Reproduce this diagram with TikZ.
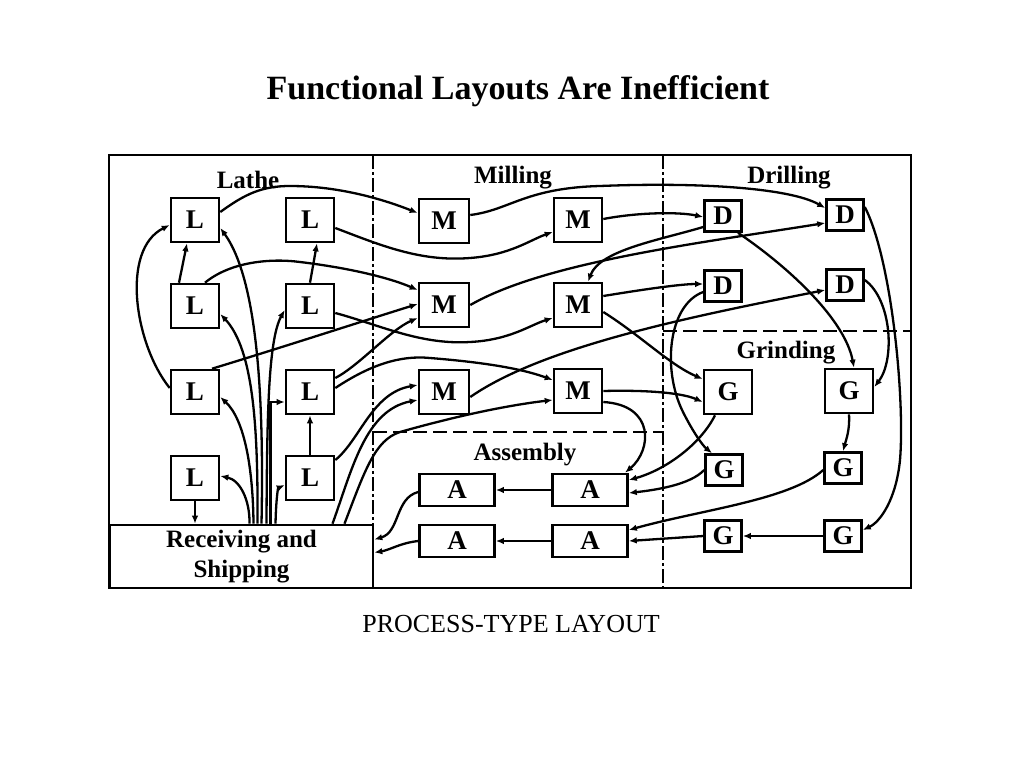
\documentclass[tikz,border=0pt]{standalone}
\usepackage{fontspec}
\setmainfont{Liberation Serif}
\usetikzlibrary{arrows.meta,calc}
\tikzset{
  mach/.style={draw, line width=2.6pt, inner sep=0pt, font=\bfseries\fontsize{27}{27}\selectfont},
  lbox/.style={mach, minimum width=48pt, minimum height=44pt},
  abox/.style={mach, minimum width=75pt, minimum height=32pt},
  dbox/.style={mach, minimum width=37pt, minimum height=31pt},
  flow/.style={line width=2.3pt, -{Latex[length=8pt,width=6.5pt]}},
  area/.style={font=\bfseries\fontsize{25}{25}\selectfont},
  dashdot/.style={line width=2.4pt, dash pattern=on 14pt off 3pt on 3pt off 3pt},
  dashline/.style={line width=2.4pt, dash pattern=on 14pt off 6pt},
}
\begin{document}
\begin{tikzpicture}[x=1pt,y=-1pt]
\useasboundingbox[fill=white] (0,0) rectangle (1024,768);
\node (title) at (518,91) {\bfseries\fontsize{34}{34}\selectfont Functional Layouts Are Inefficient};
\node (caption) at (511,624) {\fontsize{26}{26}\selectfont PROCESS-TYPE LAYOUT};
% frame and zones
\draw[line width=2.6pt] (109,155) rectangle (911,588);
\draw[dashdot] (373,155) -- (373,588);
\draw[dashdot] (663,155) -- (663,588);
\draw[dashline] (373,432) -- (663,432);
\draw[dashline] (663,331) -- (911,331);
% labels
\node[area] (lathe) at (248,180) {Lathe};
\node[area] (milling) at (513,178) {Milling};
\node[area] (drilling) at (789,178) {Drilling};
\node[area] (grinding) at (786,353) {Grinding};
\node[area] (assembly) at (525,455) {Assembly};
% receiving
\node[draw, line width=2.6pt, minimum width=263pt, minimum height=63pt, inner sep=0pt, align=center, font=\bfseries\fontsize{25}{30}\selectfont] (R) at (241.5,556.5) {Receiving and\\Shipping};
% lathes
\node[lbox] (L1) at (195,220) {L};
\node[lbox] (L2) at (310,220) {L};
\node[lbox] (L3) at (195,306) {L};
\node[lbox] (L4) at (310,306) {L};
\node[lbox] (L5) at (195,392) {L};
\node[lbox] (L6) at (310,392) {L};
\node[lbox] (L7) at (195,478) {L};
\node[lbox] (L8) at (310,478) {L};
% milling
\node[lbox, minimum width=50pt] (M1) at (444,221) {M};
\node[lbox] (M2) at (578,220) {M};
\node[lbox, minimum width=50pt] (M3) at (444,305) {M};
\node[lbox] (M4) at (578,305) {M};
\node[lbox, minimum width=50pt] (M5) at (444,392) {M};
\node[lbox] (M6) at (578,391) {M};
% assembly
\node[abox] (A1) at (457,490) {A};
\node[abox] (A2) at (590,490) {A};
\node[abox] (A3) at (457,541) {A};
\node[abox] (A4) at (590,541) {A};
% drilling
\node[dbox] (D1) at (723,216) {D};
\node[dbox] (D2) at (845,215) {D};
\node[dbox] (D3) at (723,286) {D};
\node[dbox] (D4) at (845,285) {D};
% grinding
\node[lbox] (G1) at (728,392) {G};
\node[lbox] (G2) at (849,391) {G};
\node[dbox] (G3) at (724,470) {G};
\node[dbox] (G4) at (843,468) {G};
\node[dbox] (G5) at (723,536) {G};
\node[dbox] (G6) at (843,536) {G};
% flows
\draw[flow] ($(L1.east)+(0,-8)$) .. controls (245,194) and (262,186) .. (290,186) .. controls (340,186) and (385,200) .. ($(M1.west)+(0,-8)$);
\draw[flow] ($(M1.east)+(0,-6)$) .. controls (510,210) and (525,188) .. (600,186) .. controls (700,182) and (790,188) .. ($(D2.west)+(0,-7)$);
\draw[flow] ($(M2.east)+(0,-1)$) .. controls (640,212) and (680,212) .. ($(D1.west)+(0,1)$);
\draw[flow] ($(D1.west)+(0,11)$) .. controls (660,240) and (600,250) .. ($(M4.north)+(10,0)$);
\draw[flow] (M3.east) .. controls (545,262) and (700,243) .. ($(D2.west)+(0,8)$);
\draw[flow] ($(M4.east)+(0,-9)$) .. controls (640,290) and (680,284) .. ($(D3.west)+(0,-2)$);
\draw[flow] ($(M4.east)+(0,7)$) .. controls (640,335) and (670,365) .. ($(G1.west)+(0,-13)$);
\draw[flow] ($(M5.east)+(0,5)$) .. controls (545,345) and (700,315) .. ($(D4.west)+(0,5)$);
\draw[flow] ($(D3.west)+(0,6)$) .. controls (668,305) and (662,370) .. (683,412) .. controls (692,430) and (702,445) .. ($(G3.north)+(-12,0)$);
\draw[flow] ($(D1.south)+(15,0)$) .. controls (790,268) and (845,320) .. ($(G2.north)+(5,0)$);
\draw[flow] ($(D2.east)+(0,-8)$) .. controls (892,260) and (905,400) .. (900,460) .. controls (896,500) and (880,522) .. ($(G6.east)+(0,-6)$);
\draw[flow] ($(D4.east)+(0,-5)$) .. controls (892,300) and (895,360) .. ($(G2.east)+(0,-4)$);
\draw[flow] (G2.south) .. controls (850,430) and (846,440) .. (G4.north);
\draw[flow] (G6.west) -- (G5.east);
\draw[flow] (G5.west) -- (A4.east);
\draw[flow] ($(G4.west)+(0,2)$) .. controls (790,500) and (700,510) .. ($(A4.east)+(0,-11)$);
\draw[flow] (G3.west) .. controls (690,485) and (655,490) .. ($(A2.east)+(0,3)$);
\draw[flow] ($(G1.south)+(-13,0)$) .. controls (700,445) and (665,470) .. ($(A2.east)+(0,-10)$);
\draw[flow] (M6.east) .. controls (640,390) and (680,392) .. ($(G1.west)+(0,10)$);
\draw[flow] ($(M6.east)+(0,11)$) .. controls (655,405) and (652,450) .. ($(A2.north)+(35,0)$);
\draw[flow] (A2.west) -- (A1.east);
\draw[flow] (A4.west) -- (A3.east);
\draw[flow] ($(A1.west)+(0,2)$) .. controls (395,498) and (400,532) .. ($(R.east)+(0,-17)$);
\draw[flow] (A3.west) .. controls (400,543) and (390,550) .. ($(R.east)+(0,-4)$);
\draw[flow] ($(L8.east)+(0,-18)$) .. controls (360,440) and (372,393) .. ($(M5.west)+(0,-7)$);
\draw[flow] ($(R.north)+(91,0)$) .. controls (352,470) and (365,410) .. ($(M5.west)+(0,8)$);
\draw[flow] ($(R.north)+(103,0)$) .. controls (365,470) and (375,440) .. (400,432) .. controls (460,415) and (510,405) .. ($(M6.west)+(0,9)$);
\draw[flow] ($(L3.north)+(10,0)$) .. controls (230,262) and (270,258) .. (300,262) .. controls (350,268) and (390,278) .. ($(M3.west)+(0,-15)$);
\draw[flow] ($(L5.north)+(17,0)$) .. controls (280,348) and (360,322) .. ($(M3.west)+(0,-1)$);
\draw[flow] ($(L6.east)+(0,-14)$) .. controls (360,365) and (390,330) .. ($(M3.west)+(0,13)$);
\draw[flow] ($(L6.east)+(0,-4)$) .. controls (370,365) and (400,355) .. (430,358) .. controls (480,362) and (520,368) .. ($(M6.west)+(0,-11)$);
\draw[flow] ($(L2.east)+(0,8)$) .. controls (380,245) and (420,262) .. (470,258) .. controls (510,255) and (530,240) .. ($(M2.west)+(0,12)$);
\draw[flow] ($(L4.east)+(0,7)$) .. controls (380,325) and (420,345) .. (470,342) .. controls (510,340) and (530,325) .. ($(M4.west)+(0,13)$);
\draw[flow] ($(L3.north)+(-16,0)$) -- ($(L1.south)+(-8,0)$);
\draw[flow] (L4.north) -- ($(L2.south)+(7,0)$);
\draw[flow] ($(L5.west)+(0,-4)$) .. controls (135,345) and (120,250) .. ($(L1.west)+(0,5)$);
\draw[flow] (L8.north) -- (L6.south);
\draw[flow] (L7.south) -- (L7.south |- R.north);
\draw[flow] ($(R.north)+(20,0)$) .. controls (264,400) and (258,280) .. ($(L1.east)+(0,8)$);
\draw[flow] ($(R.north)+(16,0)$) .. controls (258,430) and (254,350) .. ($(L3.east)+(0,8)$);
\draw[flow] ($(R.north)+(12,0)$) .. controls (253,470) and (245,420) .. ($(L5.east)+(0,5)$);
\draw[flow] ($(R.north)+(8,0)$) .. controls (250,500) and (240,480) .. ($(L7.east)+(0,-2)$);
\draw[flow] ($(R.north)+(25,0)$) .. controls (267,420) and (268,340) .. ($(L4.west)+(0,4)$);
\draw[flow] ($(R.north)+(29,0)$) |- ($(L6.west)+(0,10)$);
\draw[flow] ($(R.north)+(34,0)$) .. controls (276,500) and (278,488) .. ($(L8.west)+(0,7)$);
\end{tikzpicture}
\end{document}
